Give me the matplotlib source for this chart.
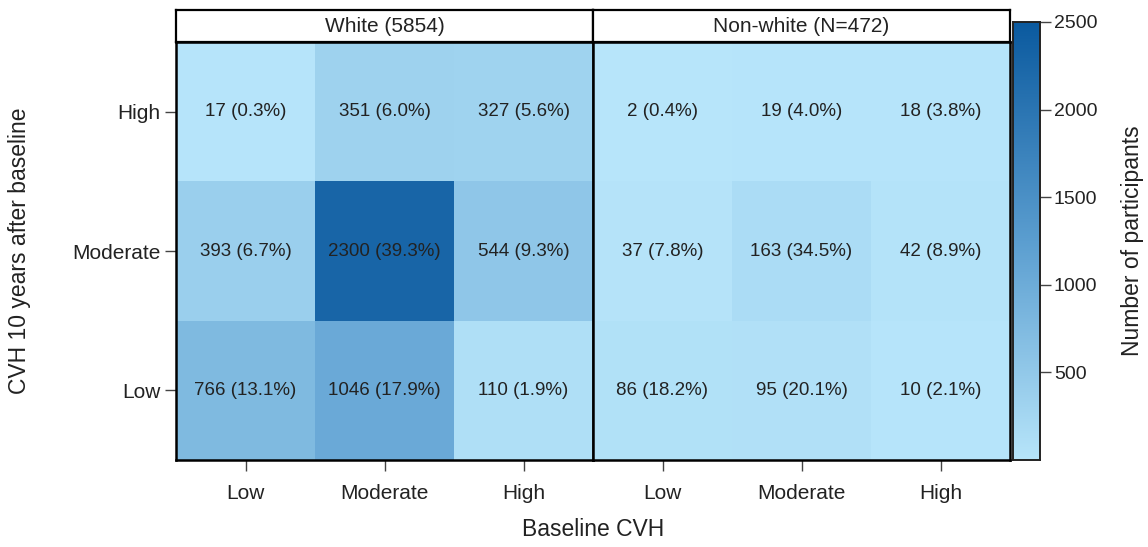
import matplotlib.pyplot as plt
import numpy as np
from matplotlib.colors import LinearSegmentedColormap, Normalize

plt.rcParams['font.family'] = ['Liberation Sans', 'DejaVu Sans']

# Datos (filas: Low, Moderate, High de abajo hacia arriba)
levels = ['Low', 'Moderate', 'High']
groups = ['White (5854)', 'Non-white (N=472)']

white_n = [[766, 1046, 110],
           [393, 2300, 544],
           [17, 351, 327]]
white_pct = [[13.1, 17.9, 1.9],
             [6.7, 39.3, 9.3],
             [0.3, 6.0, 5.6]]

nonwhite_n = [[86, 95, 10],
              [37, 163, 42],
              [2, 19, 18]]
nonwhite_pct = [[18.2, 20.1, 2.1],
                [7.8, 34.5, 8.9],
                [0.4, 4.0, 3.8]]

cbar_ticks = [500, 1000, 1500, 2000, 2500]

W, H = 1148, 547
fig = plt.figure(figsize=(W / 100, H / 100), dpi=100)

def box(x0, y0, x1, y1):
    # pixeles -> fracciones de figura
    return [x0 / W, 1 - y1 / H, (x1 - x0) / W, (y1 - y0) / H]

TXT = '#222222'
cmap = LinearSegmentedColormap.from_list('azules', ['#b7e5fa', '#5b9ed0', '#0b5a9f'])
norm = Normalize(vmin=0, vmax=2500)

paneles = [(white_n, white_pct, 176, 593), (nonwhite_n, nonwhite_pct, 593, 1010)]
for i, (n, pct, x0, x1) in enumerate(paneles):
    ax = fig.add_axes(box(x0, 42, x1, 460))
    n = np.array(n)
    ax.pcolormesh(np.arange(4) - 0.5, np.arange(4) - 0.5, n, cmap=cmap, norm=norm)
    for r in range(3):
        for c in range(3):
            ax.text(c, r, f'{n[r, c]} ({pct[r][c]:.1f}%)', ha='center', va='center',
                    fontsize=13.5, color=TXT)
    ax.set_xlim(-0.5, 2.5)
    ax.set_ylim(-0.5, 2.5)
    ax.set_xticks(range(3))
    ax.set_xticklabels(levels, fontsize=15, color=TXT)
    ax.tick_params(axis='x', length=8, width=1, color='#444444', pad=9)
    if i == 0:
        ax.set_yticks(range(3))
        ax.set_yticklabels(levels, fontsize=15, color=TXT)
        ax.tick_params(axis='y', length=8, width=1, color='#444444', pad=3)
    else:
        ax.set_yticks([])
    for s in ax.spines.values():
        s.set_linewidth(1.8)
        s.set_color('black')

    # franja superior
    st = fig.add_axes(box(x0, 10, x1, 42))
    st.set_facecolor('white')
    st.set_xticks([])
    st.set_yticks([])
    for s in st.spines.values():
        s.set_linewidth(1.6)
        s.set_color('black')
    st.text(0.5, 0.5, groups[i], ha='center', va='center', fontsize=15, color=TXT,
            transform=st.transAxes)

# barra de color
cax = fig.add_axes(box(1013, 22, 1040, 460))
grad = np.linspace(0, 2500, 256).reshape(-1, 1)
cax.imshow(grad, aspect='auto', cmap=cmap, norm=norm, origin='lower',
           extent=[0, 1, 0, 2500])
cax.set_xticks([])
cax.yaxis.tick_right()
cax.set_yticks(cbar_ticks)
cax.set_yticklabels([str(t) for t in cbar_ticks], fontsize=14, color=TXT)
cax.tick_params(axis='y', length=8, width=1, color='#444444', pad=2)
cax.set_ylim(0, 2500)
for s in cax.spines.values():
    s.set_linewidth(1.4)
    s.set_color('#222222')

fig.text(593 / W, 1 - 530 / H, 'Baseline CVH', ha='center', va='center',
         fontsize=16.5, color=TXT)
fig.text(20 / W, 1 - 251 / H, 'CVH 10 years after baseline', ha='center', va='center',
         rotation=90, fontsize=16.5, color=TXT)
fig.text(1132 / W, 1 - 241 / H, 'Number of participants', ha='center', va='center',
         rotation=90, fontsize=16.5, color=TXT)

plt.savefig('out.png', dpi=100)
